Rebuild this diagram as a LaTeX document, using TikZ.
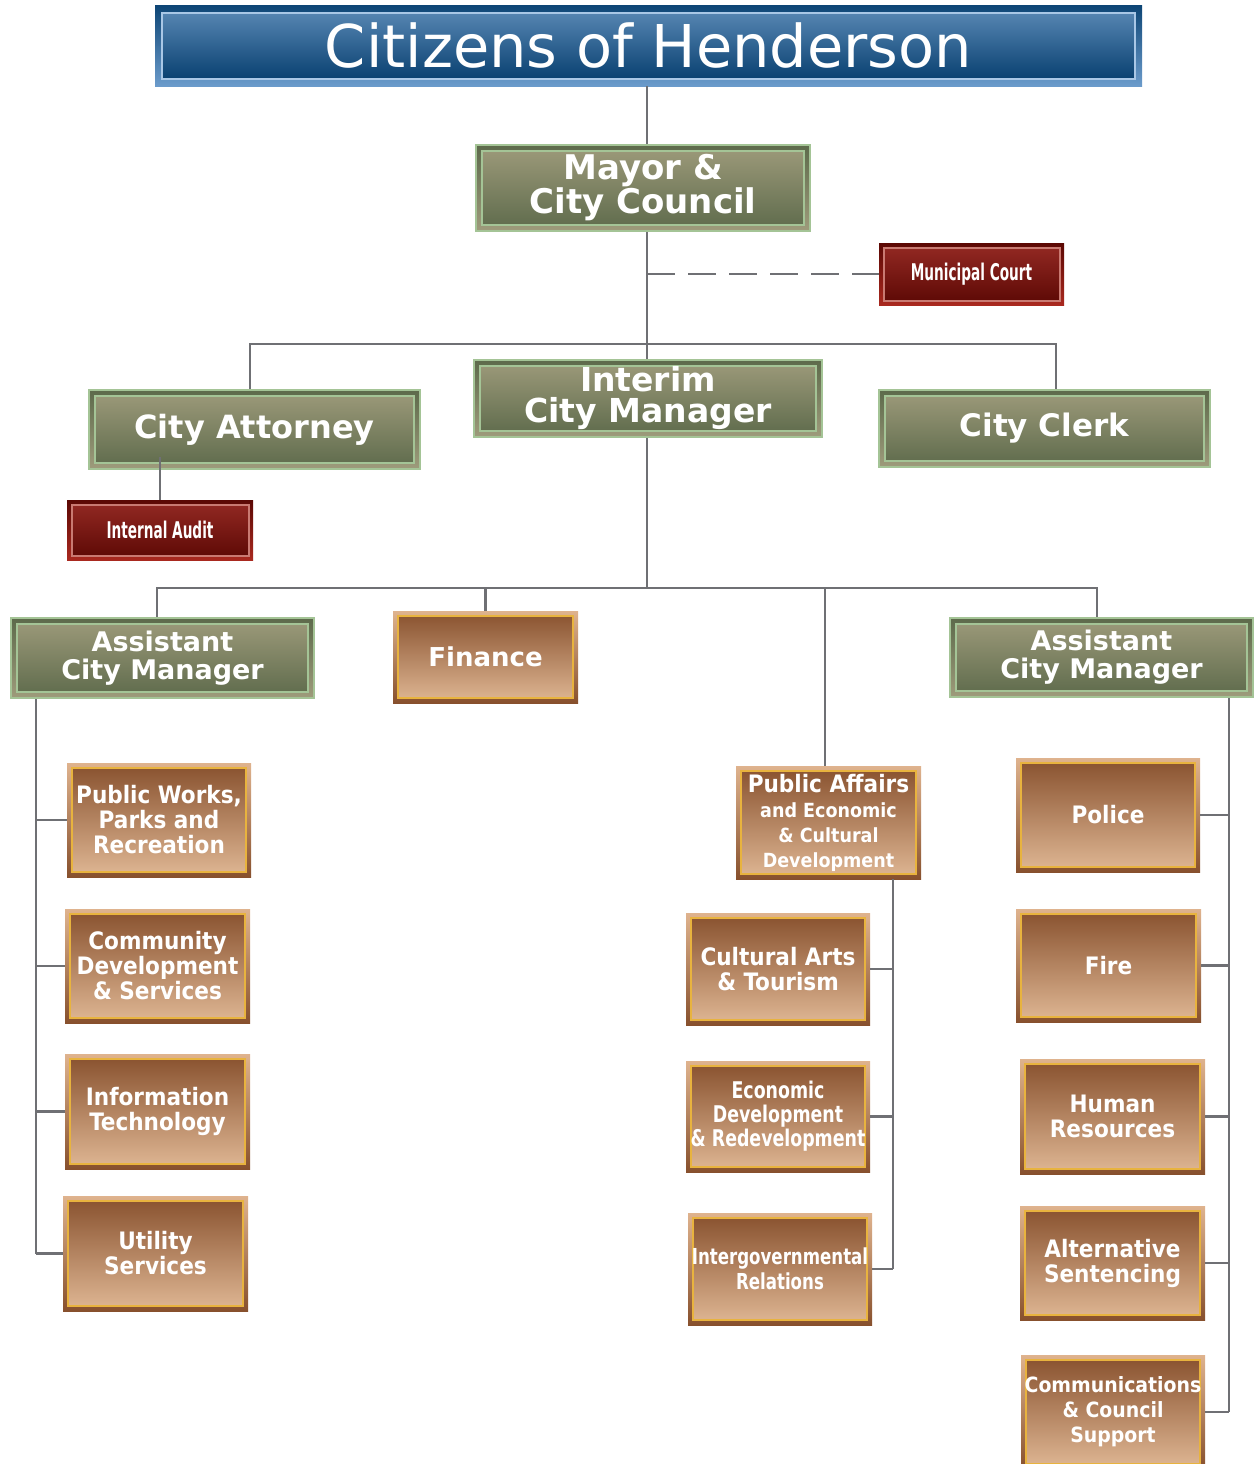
\documentclass[tikz,border=0pt]{standalone}
\usepackage{fontspec}
\usepackage{tikz}
\newfontfamily\headfont{DejaVu Sans}
\newfontfamily\wideboldfont{DejaVu Sans Bold}
\newfontfamily\deptfont{DejaVu Sans Condensed Bold}
\newfontfamily\narrowfont{DejaVu Sans Condensed Bold}[FakeStretch=0.84]
\newfontfamily\slimfont{DejaVu Sans Condensed Bold}[FakeStretch=0.66]
\lineskiplimit=-100pt

\definecolor{linegray}{HTML}{6F7074}
\definecolor{hdframetop}{HTML}{0E4676}
\definecolor{hdframebot}{HTML}{6B9BCB}
\definecolor{hdline}{HTML}{A9C7E6}
\definecolor{hdtop}{HTML}{5D8BB8}
\definecolor{hdbot}{HTML}{013A6A}
\definecolor{grlight}{HTML}{A4C496}
\definecolor{grdark}{HTML}{5D6A4B}
\definecolor{grtan}{HTML}{9E9B7B}
\definecolor{brtan}{HTML}{DFB38E}
\definecolor{brdark}{HTML}{87502D}
\definecolor{brmid}{HTML}{C48B62}
\definecolor{brlight}{HTML}{E0B895}
\definecolor{brgold}{HTML}{E8B33E}
\definecolor{rddark}{HTML}{5B0804}
\definecolor{rdbright}{HTML}{A9291F}
\definecolor{rdtop}{HTML}{952A24}
\definecolor{rdline}{HTML}{C97A72}

\tikzset{
  inset/.style n args={4}{path picture={
      \shade[top color=#3, bottom color=#4]
        ([xshift=#1, yshift=-#1]path picture bounding box.north west) rectangle
        ([xshift=-#1, yshift=#1]path picture bounding box.south east);
      \draw[#2, line width=2pt]
        ([xshift=#1, yshift=-#1]path picture bounding box.north west) rectangle
        ([xshift=-#1, yshift=#1]path picture bounding box.south east);}},
  headbox/.style={rectangle, inner sep=0pt, text=white,
    top color=hdframetop, bottom color=hdframebot,
    inset={7pt}{hdline}{hdtop}{hdbot},
    font=\headfont\fontsize{59}{60}\selectfont},
  officebox/.style={rectangle, inner sep=0pt, align=center, text=white,
    draw=grlight, line width=2.5pt, top color=grdark, bottom color=grtan,
    inset={6pt}{grlight}{grtan}{grdark}},
  deptbox/.style={rectangle, inner sep=0pt, align=center, text=white,
    top color=brtan, bottom color=brdark,
    path picture={
      \shade[top color=brdark, middle color=brmid, bottom color=brlight]
        ([xshift=5pt, yshift=-5pt]path picture bounding box.north west) rectangle
        ([xshift=-5pt, yshift=5pt]path picture bounding box.south east);
      \draw[brgold, line width=2pt]
        ([xshift=5pt, yshift=-5pt]path picture bounding box.north west) rectangle
        ([xshift=-5pt, yshift=5pt]path picture bounding box.south east);},
    font=\deptfont\fontsize{24}{25}\selectfont},
  courtbox/.style={rectangle, inner sep=0pt, text=white,
    top color=rddark, bottom color=rdbright,
    inset={4.5pt}{rdline}{rdtop}{rddark},
    font=\slimfont\fontsize{23}{24}\selectfont},
  link/.style={draw=linegray, line width=2.5pt}
}

\begin{document}
\begin{tikzpicture}[x=1pt, y=-1pt]
\useasboundingbox (0,0) rectangle (1255,1464);

% top of the chart
\node[headbox, minimum width=987, minimum height=80] (citizens) at (648.5,46) {\raisebox{2pt}{Citizens of Henderson}};
\node[officebox, minimum width=334, minimum height=86,
  font=\wideboldfont\fontsize{34}{34}\selectfont] (mayor) at (643,188) {Mayor \&\\City Council};
\node[courtbox, minimum width=185, minimum height=62] (court) at (971.5,274) {Municipal Court};

\node[officebox, minimum width=331, minimum height=79,
  font=\wideboldfont\fontsize{32}{30}\selectfont] (attorney) at (254.5,429.5) {City Attorney};
\node[officebox, minimum width=348, minimum height=77,
  font=\wideboldfont\fontsize{33}{31}\selectfont] (interim) at (648,398.5) {Interim\\City Manager};
\node[officebox, minimum width=331, minimum height=77,
  font=\wideboldfont\fontsize{31}{30}\selectfont] (clerk) at (1044.5,428.5) {City Clerk};
\node[courtbox, minimum width=186, minimum height=60] (audit) at (160,530) {Internal Audit};

% second level
\node[officebox, minimum width=303, minimum height=80,
  font=\wideboldfont\fontsize{27}{28}\selectfont] (acmL) at (162.5,658) {Assistant\\City Manager};
\node[deptbox, minimum width=185, minimum height=92,
  font=\wideboldfont\fontsize{26}{27}\selectfont] (finance) at (485.5,657) {Finance};
\node[officebox, minimum width=303, minimum height=79,
  font=\wideboldfont\fontsize{27}{28}\selectfont] (acmR) at (1101.5,657.5) {Assistant\\City Manager};

% left column
\node[deptbox, minimum width=184, minimum height=114] (works) at (159,820) {Public Works,\\Parks and\\Recreation};
\node[deptbox, minimum width=185, minimum height=114] (commdev) at (157.5,966) {Community\\Development\\\& Services};
\node[deptbox, minimum width=185, minimum height=115] (infotech) at (157.5,1111.5) {Information\\Technology};
\node[deptbox, minimum width=185, minimum height=115] (utility) at (155.5,1253.5) {Utility\\Services};

% middle column
\node[deptbox, minimum width=185, minimum height=113] (affairs) at (828.5,822.5)
  {Public Affairs\\\fontsize{19.5}{25}\selectfont and Economic\\\fontsize{19.5}{25}\selectfont \& Cultural\\\fontsize{19.5}{25}\selectfont Development};
\node[deptbox, minimum width=184, minimum height=112] (arts) at (778,969) {Cultural Arts\\\& Tourism};
\node[deptbox, minimum width=184, minimum height=111,
  font=\narrowfont\fontsize{23}{24}\selectfont] (econdev) at (778,1116.5) {Economic\\Development\\\& Redevelopment};
\node[deptbox, minimum width=184, minimum height=112,
  font=\narrowfont\fontsize{22}{25}\selectfont] (intergov) at (780,1269) {Intergovernmental\\Relations};

% right column
\node[deptbox, minimum width=184, minimum height=114] (police) at (1108,815) {Police};
\node[deptbox, minimum width=185, minimum height=113] (fire) at (1108.5,965.5) {Fire};
\node[deptbox, minimum width=185, minimum height=115] (hr) at (1112.5,1116.5) {Human\\Resources};
\node[deptbox, minimum width=185, minimum height=114] (altsent) at (1112.5,1263) {Alternative\\Sentencing};
\node[deptbox, minimum width=184, minimum height=114,
  font=\deptfont\fontsize{21}{25}\selectfont] (comms) at (1113,1412) {Communications\\\& Council\\Support};

% connectors
\coordinate (spine) at (647,0);
\coordinate (bar) at (647,588);
\coordinate (trunkL) at (36,0);
\coordinate (trunkM) at (893,0);
\coordinate (trunkR) at (1229,0);

\draw[link] (citizens.south -| spine) -- (mayor.north -| spine);
\draw[link] (mayor.south -| spine) -- (interim.north -| spine);
\draw[link, dash pattern=on 28pt off 13pt] (court.west -| spine) -- (court.west);
\draw[link] ([xshift=-4.5]attorney.north) -- ++(0,-45) -| ([xshift=11.5]clerk.north);
\draw[link] ([yshift=13]attorney.south -| audit.north) -- (audit.north);

\draw[link] (interim.south -| spine) -- (bar);
\draw[link] ([xshift=-5.5]acmL.north) -- ++(0,-29) -| ([xshift=-4.5]acmR.north);
\draw[link] (finance.north) -- (finance.north |- bar);
\draw[link] ([xshift=-3.5]affairs.north) -- ([xshift=-3.5]affairs.north |- bar);

\draw[link] (acmL.south -| trunkL) -- (utility.west -| trunkL);
\foreach \dept in {works, commdev, infotech, utility}
  \draw[link] (\dept.west -| trunkL) -- (\dept.west);

\draw[link] (affairs.south -| trunkM) -- (intergov.east -| trunkM);
\foreach \dept in {arts, econdev, intergov}
  \draw[link] (\dept.east) -- (\dept.east -| trunkM);

\draw[link] (acmR.south -| trunkR) -- (comms.east -| trunkR);
\foreach \dept in {police, fire, hr, altsent, comms}
  \draw[link] (\dept.east) -- (\dept.east -| trunkR);

\end{tikzpicture}
\end{document}
